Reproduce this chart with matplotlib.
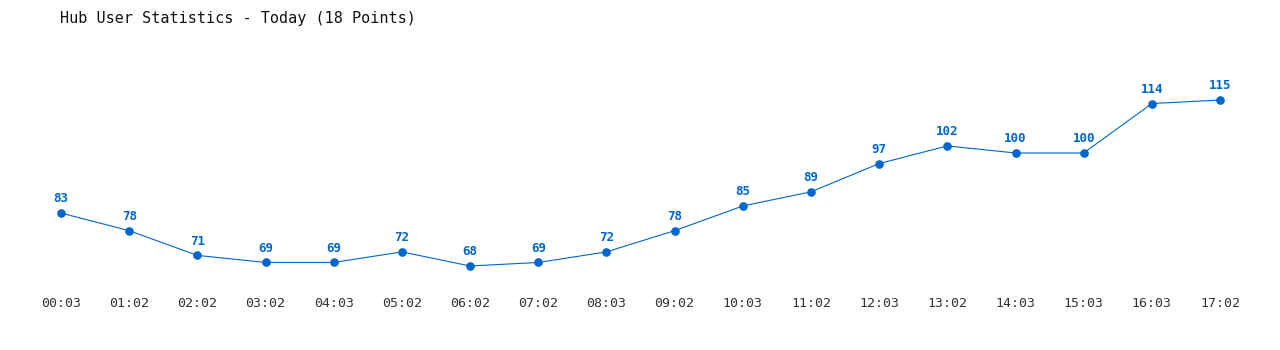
import matplotlib
matplotlib.use("Agg")
import matplotlib.pyplot as plt

times = ["00:03", "01:02", "02:02", "03:02", "04:03", "05:02", "06:02", "07:02", "08:03",
         "09:02", "10:03", "11:02", "12:03", "13:02", "14:03", "15:03", "16:03", "17:02"]
users = [83, 78, 71, 69, 69, 72, 68, 69, 72, 78, 85, 89, 97, 102, 100, 100, 114, 115]
title = "Hub User Statistics - Today (18 Points)"

color = "#0066cc"
fig = plt.figure(figsize=(12.8, 3.5), dpi=100)
ax = fig.add_axes([0, 60/350, 1, 250/350])
x = list(range(len(users)))
ax.plot(x, users, color=color, lw=0.8, marker="o", ms=5.2, zorder=3)
for xi, v in zip(x, users):
    ax.annotate(str(v), (xi, v), xytext=(0, 5.5), textcoords="offset points",
                ha="center", va="bottom", color=color, fontsize=9,
                fontweight="bold", family="DejaVu Sans Mono")
ax.set_xlim(-61/68.18, (1280-61)/68.18)
ax.set_ylim(61.205, 131.99)
ax.set_xticks(x)
ax.set_xticklabels(times, family="DejaVu Sans Mono", fontsize=9.5, color="#333333")
ax.tick_params(axis="x", length=0, pad=5)
ax.set_yticks([])
for s in ax.spines.values():
    s.set_visible(False)
fig.text(60/1280, 1 - 18/350, title, ha="left", va="center",
         family="DejaVu Sans Mono", fontsize=10.9, color="#111111")
fig.savefig("out.png", dpi=100)
